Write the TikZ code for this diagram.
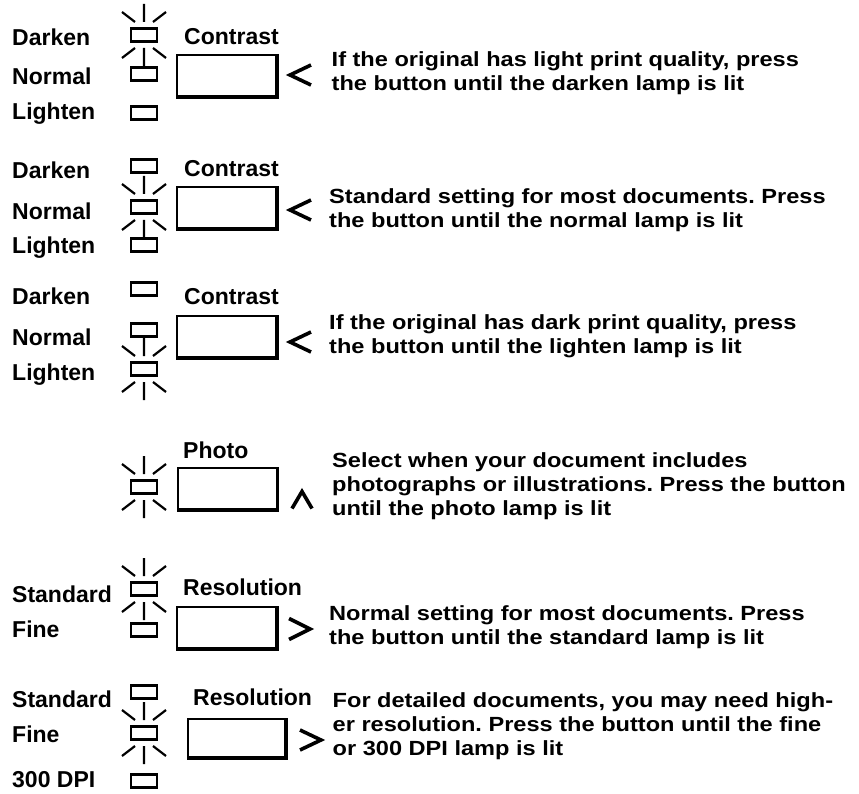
\documentclass[tikz,border=0pt]{standalone}
\usepackage{fontspec}
\setmainfont{Liberation Sans}
\newfontfamily\descfont{Liberation Sans}[FakeStretch=1.15]
\frenchspacing

% lit lamp: short rays above and below
\newcommand{\glow}[1]{%
  \foreach \s in {1,-1} {
    \draw[ray,shift={(#1)}] (0,13*\s) -- (0,31*\s)
       (9,13*\s) -- (22,23*\s) (-9,13*\s) -- (-22,23*\s);
  }}

\begin{document}
\begin{tikzpicture}[x=1pt,y=-1pt,
  lbl/.style={anchor=base west,inner sep=0,font=\bfseries\fontsize{23}{27}\selectfont},
  desc/.style={anchor=base west,inner sep=0,align=left,font=\descfont\bfseries\fontsize{20.5}{24}\selectfont},
  lamp/.style={draw,line width=2.2pt,minimum width=26pt,minimum height=13pt,inner sep=0},
  button/.style={draw,line width=2pt,minimum width=99pt,minimum height=41pt,inner sep=0},
  ray/.style={line width=2.2pt},
  edge/.style={line width=3.2pt},
  chev/.style={line width=3.6pt}]
\useasboundingbox (0,0) rectangle (859,794);

% contrast: darken
\node[lbl] (dkA) at (12,46) {Darken};
\node[lbl] (nmA) at (12,85) {Normal};
\node[lbl] (ltA) at (12,120) {Lighten};
\node[lamp] (lamp dkA) at (144,35) {};
\node[lamp] (lamp nmA) at (144,74) {};
\node[lamp] (lamp ltA) at (144,113) {};
\glow{lamp dkA}
\node[lbl] (ctA) at (184,45) {Contrast};
\node[button] (btnA) at (226.5,75.5) {};
\draw[chev,shift={(300,75)}] (11,-10) -- (-10,0) -- (11,10);
\node[desc] (txtA) at (331.5,91) {If the original has light print quality, press\\
  the button until the darken lamp is lit};

% contrast: normal
\node[lbl] (dkB) at (12,179) {Darken};
\node[lbl] (nmB) at (12,220) {Normal};
\node[lbl] (ltB) at (12,254) {Lighten};
\node[lamp] (lamp dkB) at (144,166) {};
\node[lamp] (lamp nmB) at (144,207) {};
\node[lamp] (lamp ltB) at (144,245) {};
\glow{lamp nmB}
\node[lbl] (ctB) at (184,177) {Contrast};
\node[button] (btnB) at (226.5,208) {};
\draw[chev,shift={(300,210)}] (11,-10) -- (-10,0) -- (11,10);
\node[desc] (txtB) at (329,228) {Standard setting for most documents. Press\\
  the button until the normal lamp is lit};

% contrast: lighten
\node[lbl] (dkC) at (12,305) {Darken};
\node[lbl] (nmC) at (12,345) {Normal};
\node[lbl] (ltC) at (12,380) {Lighten};
\node[lamp] (lamp dkC) at (144,289) {};
\node[lamp] (lamp nmC) at (144,330) {};
\node[lamp] (lamp ltC) at (144,369) {};
\glow{lamp ltC}
\node[lbl] (ctC) at (184,305) {Contrast};
\node[button] (btnC) at (226.5,336.5) {};
\draw[chev,shift={(300,342)}] (11,-10) -- (-10,0) -- (11,10);
\node[desc] (txtC) at (329,353) {If the original has dark print quality, press\\
  the button until the lighten lamp is lit};

% photo
\node[lamp] (lamp ph) at (144,487) {};
\glow{lamp ph}
\node[lbl] (ph) at (183,458) {Photo};
\node[button] (btnD) at (227,488.5) {};
\draw[chev,shift={(302,500)}] (-10,8.5) -- (0,-8.5) -- (10,8.5);
\node[desc] (txtD) at (332,515) {Select when your document includes\\
  photographs or illustrations. Press the button\\
  until the photo lamp is lit};

% resolution: standard
\node[lbl] (stE) at (12,602) {Standard};
\node[lbl] (fnE) at (12,637) {Fine};
\node[lamp] (lamp stE) at (144,589) {};
\node[lamp] (lamp fnE) at (144,630) {};
\glow{lamp stE}
\node[lbl] (rsE) at (183,595) {Resolution};
\node[button] (btnE) at (226.5,627.5) {};
\draw[chev,shift={(300,629)}] (-11,-10.5) -- (10,0) -- (-11,10.5);
\node[desc] (txtE) at (329,644) {Normal setting for most documents. Press\\
  the button until the standard lamp is lit};

% resolution: fine
\node[lbl] (stF) at (12,707) {Standard};
\node[lbl] (fnF) at (12,742) {Fine};
\node[lbl] (dpF) at (12,787) {300 DPI};
\node[lamp] (lamp stF) at (144,692) {};
\node[lamp] (lamp fnF) at (144,733) {};
\node[lamp] (lamp dpF) at (144,781) {};
\glow{lamp fnF}
\node[lbl] (rsF) at (193,705) {Resolution};
\node[button,minimum width=97pt,minimum height=38pt] (btnF) at (236.5,738) {};
\draw[chev,shift={(311,740)}] (-11,-10) -- (10,0) -- (-11,10);
\node[desc] (txtF) at (332.5,755) {For detailed documents, you may need high-\\
  er resolution. Press the button until the fine\\
  or 300 DPI lamp is lit};

% heavy right and bottom edge of each button
\foreach \b in {btnA,btnB,btnC,btnD,btnE,btnF}
  \draw[edge] (\b.north east) -- (\b.south east) -- (\b.south west);
\end{tikzpicture}
\end{document}
